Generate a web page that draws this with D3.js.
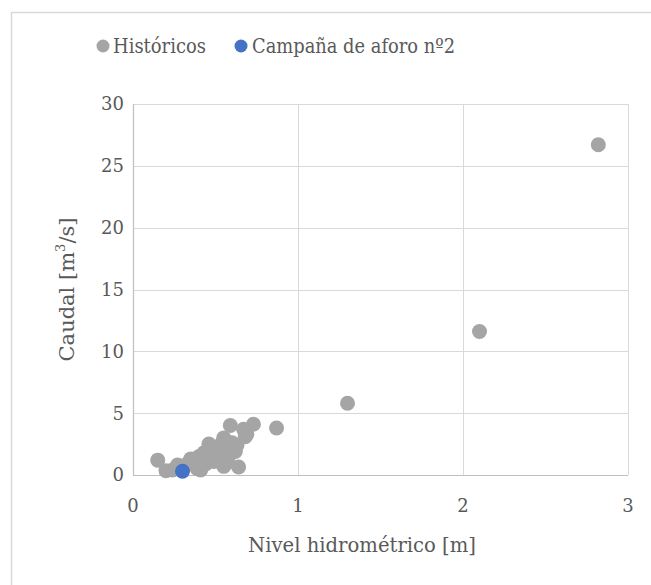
<!DOCTYPE html>
<html><head><meta charset="utf-8">
<script src="https://cdn.jsdelivr.net/npm/d3@7"></script>
<style>body{margin:0;background:#fff;} svg{display:block;font-family:"DejaVu Serif","Liberation Serif",serif;}</style>
</head><body>
<svg id="c" width="651" height="585"></svg>
<script>
// Históricos: nivel [m]
const histX = [0.15,0.20,0.24,0.27,0.30,0.33,0.35,0.37,0.39,0.40,0.41,0.42,0.43,0.44,0.45,0.46,0.47,0.48,0.49,0.50,0.51,0.52,0.53,0.54,0.55,0.55,0.56,0.57,0.58,0.59,0.60,0.61,0.62,0.63,0.64,0.67,0.68,0.69,0.73,0.87,1.30,2.10,2.82];
// Históricos: caudal [m3/s]
const histY = [1.2,0.35,0.4,0.8,0.6,0.9,1.3,0.9,0.5,1.5,0.4,1.2,1.8,0.9,1.4,2.5,2.0,1.6,1.1,2.2,1.7,1.4,1.9,2.6,3.0,0.7,2.4,1.0,1.5,4.0,2.6,2.1,1.9,2.4,0.65,3.7,3.1,3.3,4.1,3.8,5.8,11.6,26.7];
// Campaña de aforo nº2
const campX = [0.30];
const campY = [0.3];
const xTicks = [0,1,2,3];
const yTicks = [0,5,10,15,20,25,30];
const seriesNames = ["Históricos","Campaña de aforo nº2"];
const seriesColors = ["#A5A5A5","#4472C4"];

const svg = d3.select("#c");
const L=133,R=628,T=104,B=475;
const x = d3.scaleLinear().domain([0,3]).range([L,R]);
const y = d3.scaleLinear().domain([0,30]).range([B,T]);
const txt="#595959";

// outer frame (only top and left edges visible)
svg.append("rect").attr("x",11.5).attr("y",12.5).attr("width",700).attr("height",700)
  .attr("fill","none").attr("stroke","#D9D9D9").attr("stroke-width",1.5);

// gridlines
svg.append("g").selectAll("line").data(yTicks.filter(d=>d>0)).join("line")
  .attr("x1",L).attr("x2",R).attr("y1",d=>Math.round(y(d))+0.5).attr("y2",d=>Math.round(y(d))+0.5)
  .attr("stroke","#D9D9D9").attr("stroke-width",1);
svg.append("g").selectAll("line").data(xTicks.filter(d=>d>0)).join("line")
  .attr("y1",T).attr("y2",B).attr("x1",d=>Math.round(x(d))+0.5).attr("x2",d=>Math.round(x(d))+0.5)
  .attr("stroke","#D9D9D9").attr("stroke-width",1);
// axes lines
svg.append("line").attr("x1",L+0.5).attr("x2",L+0.5).attr("y1",T).attr("y2",B).attr("stroke","#BFBFBF").attr("stroke-width",1.2);
svg.append("line").attr("x1",L).attr("x2",R).attr("y1",B+0.5).attr("y2",B+0.5).attr("stroke","#BFBFBF").attr("stroke-width",1.2);

// tick labels
svg.append("g").selectAll("text").data(yTicks).join("text")
  .attr("x",124).attr("y",d=>y(d)).attr("dy","0.36em").attr("text-anchor","end")
  .attr("font-size",18).attr("fill",txt).text(d=>d);
svg.append("g").selectAll("text").data(xTicks).join("text")
  .attr("x",d=>x(d)).attr("y",506).attr("dy","0.36em").attr("text-anchor","middle")
  .attr("font-size",18).attr("fill",txt).text(d=>d);

// axis titles
svg.append("text").attr("x",362).attr("y",545).attr("dy","0.36em").attr("text-anchor","middle")
  .attr("font-size",20).attr("fill",txt).attr("textLength",228).attr("lengthAdjust","spacingAndGlyphs")
  .text("Nivel hidrométrico [m]");
const yt = svg.append("text").attr("transform",`translate(66,${(T+B)/2}) rotate(-90)`)
  .attr("dy","0.36em").attr("text-anchor","middle").attr("font-size",21).attr("fill",txt);
yt.append("tspan").text("Caudal [m");
yt.append("tspan").attr("font-size",13).attr("dy",-9).text("3");
yt.append("tspan").attr("dy",9).text("/s]");

// points
svg.append("g").selectAll("circle").data(histX.map((d,i)=>[d,histY[i]])).join("circle")
  .attr("cx",d=>x(d[0])).attr("cy",d=>y(d[1])).attr("r",7.5).attr("fill",seriesColors[0]);
svg.append("g").selectAll("circle").data(campX.map((d,i)=>[d,campY[i]])).join("circle")
  .attr("cx",d=>x(d[0])).attr("cy",d=>y(d[1])).attr("r",7.5).attr("fill",seriesColors[1]);

// legend
const leg=[{cx:103,tx:113,w:93},{cx:241,tx:252,w:203}];
leg.forEach((l,i)=>{
  svg.append("circle").attr("cx",l.cx).attr("cy",46).attr("r",6.5).attr("fill",seriesColors[i]);
  svg.append("text").attr("x",l.tx).attr("y",46).attr("dy","0.36em").attr("font-size",20).attr("fill",txt)
    .attr("textLength",l.w).attr("lengthAdjust","spacingAndGlyphs").text(seriesNames[i]);
});
</script>
</body></html>
